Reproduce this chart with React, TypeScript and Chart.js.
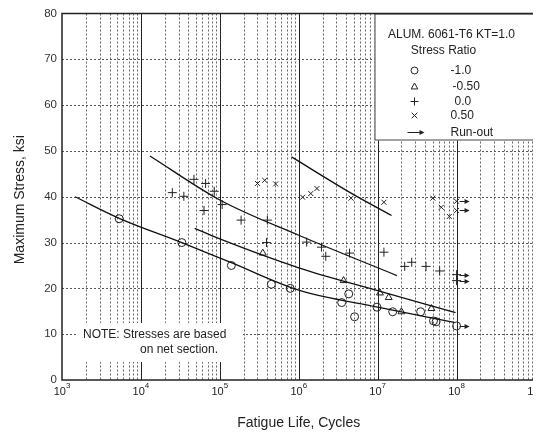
import React, { useEffect, useRef } from "react";
import { Chart, registerables } from "chart.js";

Chart.register(...registerables);

// ---------- data (cycles, max stress ksi) ----------
const circleCycles = [5.3e3, 3.3e4, 1.4e5, 4.5e5, 7.8e5, 3.5e6, 4.3e6, 5.1e6, 9.8e6, 1.55e7, 3.5e7, 5.1e7, 5.5e7];
const circleStress = [35.2, 30.0, 25.0, 20.9, 20.0, 16.9, 18.8, 13.8, 15.9, 14.9, 14.9, 12.9, 12.7];
const circleRunCycles = [1e8];
const circleRunStress = [11.8];

const triCycles = [3.5e5, 3.7e6, 1.07e7, 1.38e7, 2.0e7, 4.8e7];
const triStress = [27.7, 21.7, 19.0, 18.0, 14.9, 15.6];

const plusCycles = [2.5e4, 3.5e4, 4.7e4, 6.6e4, 8.5e4, 6.3e4, 1.07e5, 1.86e5, 4.0e5, 3.9e5, 1.26e6, 1.94e6, 2.2e6, 4.4e6, 1.2e7, 2.2e7, 2.7e7, 4.1e7, 6.1e7];
const plusStress = [40.9, 40.1, 43.8, 42.9, 41.2, 37.0, 38.3, 34.9, 34.9, 30.0, 30.1, 29.0, 27.0, 27.7, 27.9, 24.8, 25.7, 24.8, 23.8];
const plusRunCycles = [1e8, 1e8];
const plusRunStress = [23.0, 21.7];

const xCycles = [3.0e5, 3.7e5, 5.1e5, 1.12e6, 1.42e6, 1.7e6, 4.6e6, 1.2e7, 5.0e7, 6.4e7, 8.1e7];
const xStress = [42.9, 43.6, 42.8, 39.9, 40.7, 41.8, 39.7, 38.8, 39.7, 37.7, 35.7];
const xRunCycles = [1e8, 1e8];
const xRunStress = [39.0, 37.0];

// fitted curves
const curveCircleCycles = [1.46e3, 5.3e3, 3.3e4, 1.4e5, 1e6, 1e7, 9.3e7];
const curveCircleStress = [40.0, 35.3, 30.0, 25.6, 19.6, 15.9, 12.6];
const curveTriCycles = [4.8e4, 1e5, 1e6, 1e7, 9.7e7];
const curveTriStress = [33.1, 30.8, 24.5, 19.5, 14.7];
const curvePlusCycles = [1.3e4, 1e5, 1e6, 1.75e7];
const curvePlusStress = [48.9, 39.3, 31.6, 22.8];
const curveXCycles = [8.1e5, 4.6e6, 1.5e7];
const curveXStress = [48.7, 40.8, 35.9];

// axes / text
const yTickValues = [0, 10, 20, 30, 40, 50, 60, 70, 80];
const xDecadeExponents = [3, 4, 5, 6, 7, 8, 9];
const xTitle = "Fatigue Life, Cycles";
const yTitle = "Maximum Stress, ksi";
const legendTitle1 = "ALUM. 6061-T6 KT=1.0";
const legendTitle2 = "Stress Ratio";
const legendLabels = ["-1.0", "-0.50", "0.0", "0.50", "Run-out"];
const noteLines = ["NOTE: Stresses are based", "on net section."];

const FONT = "'Liberation Sans', Arial, sans-serif";
const INK = "#222";

const pts = (xs: number[], ys: number[]) => xs.map((v, i) => ({ x: v, y: ys[i] }));

function drawSymbol(ctx: CanvasRenderingContext2D, kind: string, cx: number, cy: number, r: number) {
  ctx.beginPath();
  if (kind === "circle") {
    ctx.arc(cx, cy, r, 0, Math.PI * 2);
  } else if (kind === "triangle") {
    ctx.moveTo(cx, cy - r);
    ctx.lineTo(cx + r * 0.95, cy + r * 0.7);
    ctx.lineTo(cx - r * 0.95, cy + r * 0.7);
    ctx.closePath();
  } else if (kind === "plus") {
    ctx.moveTo(cx - r, cy); ctx.lineTo(cx + r, cy);
    ctx.moveTo(cx, cy - r); ctx.lineTo(cx, cy + r);
  } else if (kind === "x") {
    ctx.moveTo(cx - r, cy - r); ctx.lineTo(cx + r, cy + r);
    ctx.moveTo(cx + r, cy - r); ctx.lineTo(cx - r, cy + r);
  }
  ctx.stroke();
}

function drawArrow(ctx: CanvasRenderingContext2D, x0: number, x1: number, y: number) {
  ctx.beginPath();
  ctx.moveTo(x0, y);
  ctx.lineTo(x1 - 3, y);
  ctx.stroke();
  ctx.beginPath();
  ctx.moveTo(x1, y);
  ctx.lineTo(x1 - 5, y - 2.5);
  ctx.lineTo(x1 - 5, y + 2.5);
  ctx.closePath();
  ctx.fill();
}

const decorPlugin = {
  id: "decor",
  beforeDatasetsDraw(chart: any) {
    const { ctx, chartArea: a, scales } = chart;
    const xs = scales.x, ys = scales.y;
    ctx.save();
    ctx.fillStyle = "#fff";
    ctx.fillRect(a.left, a.top, a.right - a.left, a.bottom - a.top);
    ctx.lineWidth = 1;
    // horizontal dashed grid
    ctx.setLineDash([2, 2]);
    ctx.strokeStyle = "#555";
    for (const v of yTickValues) {
      if (v === 0 || v === 80) continue;
      const py = Math.round(ys.getPixelForValue(v)) + 0.5;
      ctx.beginPath(); ctx.moveTo(a.left, py); ctx.lineTo(a.right, py); ctx.stroke();
    }
    // vertical minor dashed grid
    ctx.strokeStyle = "#666";
    for (let i = 0; i < xDecadeExponents.length - 1; i++) {
      const e = xDecadeExponents[i];
      for (let k = 2; k <= 9; k++) {
        const px = Math.round(xs.getPixelForValue(k * Math.pow(10, e))) + 0.5;
        ctx.beginPath(); ctx.moveTo(px, a.top); ctx.lineTo(px, a.bottom); ctx.stroke();
      }
    }
    // vertical major solid
    ctx.setLineDash([]);
    ctx.strokeStyle = INK;
    for (let i = 1; i < xDecadeExponents.length - 1; i++) {
      const px = Math.round(xs.getPixelForValue(Math.pow(10, xDecadeExponents[i]))) + 0.5;
      ctx.beginPath(); ctx.moveTo(px, a.top); ctx.lineTo(px, a.bottom); ctx.stroke();
    }
    // note box
    ctx.fillStyle = "#fff";
    ctx.fillRect(a.left + 16, a.bottom - 57, 165, 39);
    ctx.fillStyle = INK;
    ctx.font = `12px ${FONT}`;
    ctx.textBaseline = "middle";
    ctx.textAlign = "left";
    ctx.fillText(noteLines[0], a.left + 21, a.bottom - 45);
    ctx.fillText(noteLines[1], a.left + 78, a.bottom - 30);

    // legend box
    const lx = a.right - 161, ly = a.top, lw = 161, lh = 127;
    ctx.fillStyle = "#fff";
    ctx.fillRect(lx, ly, lw, lh);
    ctx.strokeStyle = "#444";
    ctx.lineWidth = 1;
    ctx.strokeRect(lx + 0.5, ly + 0.5, lw - 1, lh - 1);
    ctx.fillStyle = INK;
    ctx.font = `12px ${FONT}`;
    ctx.textAlign = "center";
    ctx.fillText(legendTitle1, lx + 77, ly + 21);
    ctx.fillText(legendTitle2, lx + 69, ly + 37);
    const rowY = [57, 73, 88, 102, 119];
    const labelX = [76, 78, 80, 76, 76];
    const kinds = ["circle", "triangle", "plus", "x"];
    const sizes = [3.5, 3.5, 4, 2.8];
    ctx.strokeStyle = INK;
    for (let i = 0; i < 4; i++) drawSymbol(ctx, kinds[i], lx + 40, ly + rowY[i], sizes[i]);
    drawArrow(ctx, lx + 33, lx + 50, ly + rowY[4]);
    ctx.textAlign = "left";
    legendLabels.forEach((t, i) => ctx.fillText(t, lx + labelX[i], ly + rowY[i]));
    ctx.restore();
  },
  afterDatasetsDraw(chart: any) {
    const { ctx, chartArea: a, scales } = chart;
    const xs = scales.x;
    ctx.save();
    // run-out arrows
    ctx.strokeStyle = INK;
    ctx.fillStyle = INK;
    ctx.lineWidth = 1;
    chart.data.datasets.forEach((ds: any, i: number) => {
      if (!ds.runout) return;
      const meta = chart.getDatasetMeta(i);
      meta.data.forEach((el: any) => {
        drawArrow(ctx, el.x + 3, el.x + 13, Math.round(el.y) + 0.5);
      });
    });
    // plot frame
    ctx.strokeStyle = INK;
    ctx.lineWidth = 1.5;
    ctx.strokeRect(a.left, a.top, a.right - a.left, a.bottom - a.top);
    // x tick labels 10^n
    ctx.fillStyle = INK;
    ctx.textBaseline = "middle";
    for (const e of xDecadeExponents) {
      const px = xs.getPixelForValue(Math.pow(10, e));
      ctx.font = `11px ${FONT}`;
      const w1 = ctx.measureText("10").width;
      ctx.font = `8px ${FONT}`;
      const w2 = ctx.measureText(String(e)).width;
      const start = px - (w1 + w2) / 2;
      ctx.font = `11px ${FONT}`;
      ctx.textAlign = "left";
      ctx.fillText("10", start, a.bottom + 12);
      ctx.font = `8px ${FONT}`;
      ctx.fillText(String(e), start + w1, a.bottom + 6);
    }
    // axis titles
    ctx.font = `14px ${FONT}`;
    ctx.textAlign = "center";
    ctx.fillText(xTitle, (a.left + a.right) / 2, a.bottom + 43);
    ctx.save();
    ctx.translate(12, (a.top + a.bottom) / 2 + 3);
    ctx.rotate(-Math.PI / 2);
    ctx.fillText(yTitle, 0, 0);
    ctx.restore();
    ctx.restore();
  },
};

const markerBase = {
  showLine: false,
  borderColor: INK,
  backgroundColor: "rgba(0,0,0,0)",
  pointBorderWidth: 1,
};

const curveBase = {
  showLine: true,
  pointRadius: 0,
  borderColor: "#111",
  borderWidth: 1.3,
  cubicInterpolationMode: "monotone" as const,
  fill: false,
};

export default function App() {
  const ref = useRef<HTMLCanvasElement | null>(null);
  useEffect(() => {
    if (!ref.current) return;
    const chart = new Chart(ref.current, {
      type: "scatter",
      data: {
        datasets: [
          { ...curveBase, label: "fit -1.0", data: pts(curveCircleCycles, curveCircleStress) },
          { ...curveBase, label: "fit -0.50", data: pts(curveTriCycles, curveTriStress) },
          { ...curveBase, label: "fit 0.0", data: pts(curvePlusCycles, curvePlusStress) },
          { ...curveBase, label: "fit 0.50", data: pts(curveXCycles, curveXStress) },
          { ...markerBase, label: "-1.0", pointStyle: "circle", pointRadius: 4, data: pts(circleCycles, circleStress) },
          { ...markerBase, label: "-1.0 run-out", runout: true, pointStyle: "circle", pointRadius: 4, data: pts(circleRunCycles, circleRunStress) },
          { ...markerBase, label: "-0.50", pointStyle: "triangle", pointRadius: 4, data: pts(triCycles, triStress) },
          { ...markerBase, label: "0.0", pointStyle: "cross", pointRadius: 4.5, data: pts(plusCycles, plusStress) },
          { ...markerBase, label: "0.0 run-out", runout: true, pointStyle: "cross", pointRadius: 4.5, data: pts(plusRunCycles, plusRunStress) },
          { ...markerBase, label: "0.50", pointStyle: "crossRot", pointRadius: 3.5, data: pts(xCycles, xStress) },
          { ...markerBase, label: "0.50 run-out", runout: true, pointStyle: "crossRot", pointRadius: 3.5, data: pts(xRunCycles, xRunStress) },
        ] as any,
      },
      options: {
        animation: false,
        responsive: false,
        devicePixelRatio: 1,
        events: [],
        layout: { padding: { top: 4, right: 5, left: 0, bottom: 0 } },
        plugins: { legend: { display: false }, tooltip: { enabled: false }, title: { display: false } },
        scales: {
          x: {
            type: "logarithmic",
            min: 1e3,
            max: 1e9,
            ticks: { display: false },
            grid: { display: false },
            border: { display: false },
            afterFit: (s: any) => { s.height = 55; s.paddingLeft = 0; s.paddingRight = 0; },
          },
          y: {
            type: "linear",
            min: 0,
            max: 80,
            afterBuildTicks: (s: any) => { s.ticks = yTickValues.map((v) => ({ value: v })); },
            ticks: { color: "#333", font: { family: FONT, size: 11.5 }, padding: 5 },
            grid: { display: false, drawTicks: false },
            border: { display: false },
            afterFit: (s: any) => { s.width = 54; s.paddingTop = 0; s.paddingBottom = 0; },
          },
        },
      },
      plugins: [decorPlugin],
    });
    return () => chart.destroy();
  }, []);
  return <canvas ref={ref} width={533} height={427} style={{ display: "block" }} />;
}
